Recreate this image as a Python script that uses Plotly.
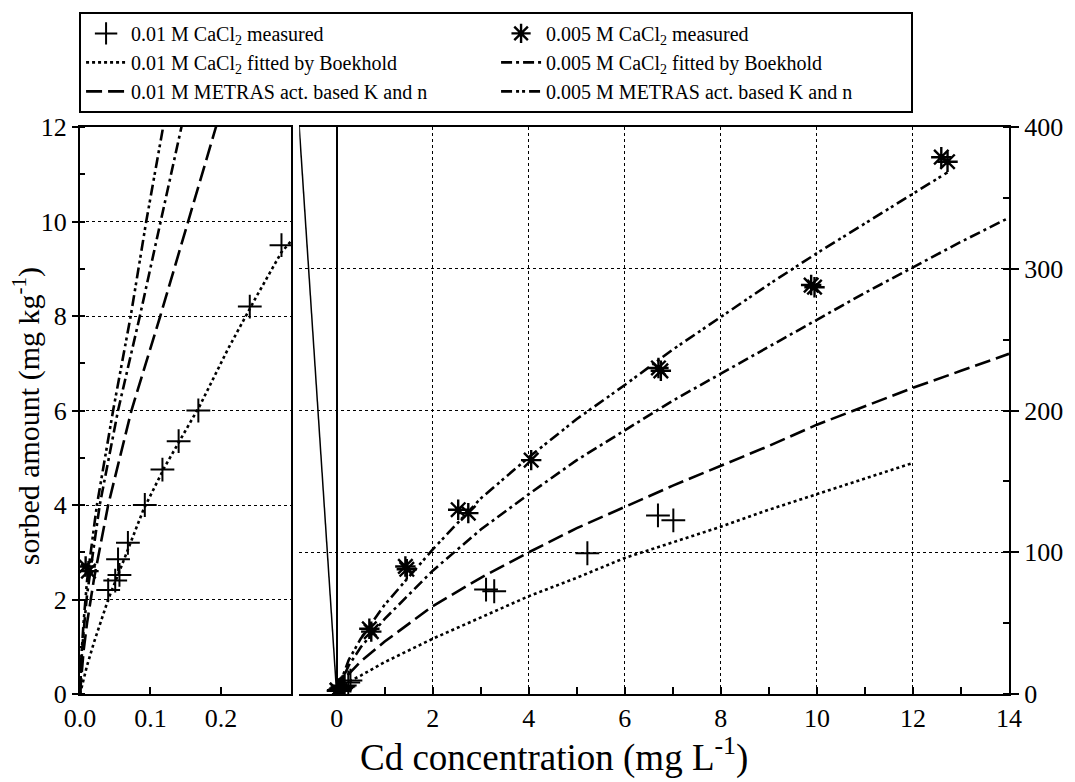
import plotly.graph_objects as go

FONT = "Liberation Serif, Times New Roman, DejaVu Serif, serif"

# ---- measured sorption, 0.01 M CaCl2 (Cd in solution mg/L, sorbed mg/kg) ----
c_01_meas = [0.040, 0.050, 0.056, 0.054, 0.068, 0.092, 0.117, 0.140, 0.168, 0.241, 0.286,
             3.11, 3.28, 5.22, 6.69, 7.01]
q_01_meas = [2.20, 2.40, 2.52, 2.85, 3.20, 4.00, 4.75, 5.35, 6.00, 8.20, 9.50,
             73.7, 72.5, 99.3, 126.0, 122.5]

# ---- measured sorption, 0.005 M CaCl2 ----
c_005_meas = [0.008, 0.012, 0.68, 0.72, 1.43, 1.46, 2.53, 2.74, 4.05, 6.70, 6.75,
              9.88, 9.95, 12.59, 12.72]
q_005_meas = [2.70, 2.60, 46.0, 44.0, 90.0, 88.0, 130.0, 127.6, 165.0, 230.0, 228.0,
              288.5, 287.0, 378.7, 375.5]

# ---- isotherm curves ----
c_01_fit = [0, 0.01, 0.02, 0.04, 0.06, 0.09, 0.12, 0.17, 0.21, 0.25, 0.286, 0.5, 1, 2, 3, 4,
            5, 6, 7, 8, 9, 10, 11, 12]
q_01_fit = [0, 0.6, 1.1, 2.0, 2.75, 3.9, 4.8, 6.1, 7.3, 8.4, 9.35, 13, 22.5, 39, 54, 69,
            82, 96, 107, 118, 130, 141, 152, 163]

c_01_met = [0, 0.005, 0.01, 0.02, 0.040, 0.073, 0.114, 0.153, 0.193, 0.25, 0.5, 1, 2, 3, 4,
            5, 6, 7, 8, 9, 10, 11, 12, 13, 14]
q_01_met = [0, 0.9, 1.5, 2.45, 4.0, 6.0, 8.0, 10.0, 12.0, 14, 23, 37, 62, 82, 100,
            117, 132, 147, 161, 175, 190, 203, 216, 228, 240]

c_005_fit = [0, 0.002, 0.005, 0.01, 0.028, 0.054, 0.085, 0.114, 0.144, 0.25, 0.5, 1, 2, 3, 4,
             5, 6, 7, 8, 9, 10, 11, 12, 13, 14]
q_005_fit = [0, 0.7, 1.3, 2.1, 4.0, 6.0, 8.0, 10.0, 12.0, 20, 33, 53, 87, 116, 141,
             165, 186, 207, 226, 245, 264, 283, 301, 319, 336]

c_005_met = [0, 0.002, 0.005, 0.01, 0.024, 0.047, 0.072, 0.094, 0.118, 0.25, 0.5, 1, 2, 3, 4,
             5, 6, 7, 8, 9, 10, 11, 12, 12.72]
q_005_met = [0, 0.8, 1.5, 2.4, 4.0, 6.0, 8.0, 10.0, 12.0, 24, 39, 63, 102, 138, 167,
             194, 218, 243, 266, 289, 311, 332, 353, 368]

# axis extents
left_x_range = [0, 0.3]
left_y_range = [0, 12]
right_x_range = [-0.78, 14]
right_y_range = [0, 400]

LBL_01_MEAS = "0.01 M CaCl<sub>2</sub> measured"
LBL_005_MEAS = "0.005 M CaCl<sub>2</sub> measured"
LBL_01_FIT = "0.01 M CaCl<sub>2</sub> fitted by Boekhold"
LBL_005_FIT = "0.005 M CaCl<sub>2</sub> fitted by Boekhold"
LBL_01_MET = "0.01 M METRAS act. based K and n"
LBL_005_MET = "0.005 M METRAS act. based K and n"

LW = 2.6
styles = {
    "fit01": dict(color="black", width=LW, dash="3px,3px"),
    "met01": dict(color="black", width=LW, dash="16px,6px"),
    "fit005": dict(color="black", width=LW, dash="11px,4px,3px,4px"),
    "met005": dict(color="black", width=LW, dash="11px,4px,3px,3px,3px,4px"),
}

fig = go.Figure()

series = [
    ("meas01", c_01_meas, q_01_meas, LBL_01_MEAS),
    ("meas005", c_005_meas, q_005_meas, LBL_005_MEAS),
    ("fit01", c_01_fit, q_01_fit, LBL_01_FIT),
    ("fit005", c_005_fit, q_005_fit, LBL_005_FIT),
    ("met01", c_01_met, q_01_met, LBL_01_MET),
    ("met005", c_005_met, q_005_met, LBL_005_MET),
]

for panel, (xa, ya) in enumerate([("x", "y"), ("x2", "y2")]):
    for key, cx, qy, name in series:
        common = dict(x=cx, y=qy, xaxis=xa, yaxis=ya, name=name, legendgroup=key,
                      showlegend=(panel == 0), hoverinfo="skip")
        if key == "meas01":
            fig.add_trace(go.Scatter(mode="markers", marker=dict(
                symbol="cross-thin-open", size=17, color="black",
                line=dict(color="black", width=2)), **common))
        elif key == "meas005":
            fig.add_trace(go.Scatter(mode="markers", marker=dict(
                symbol="asterisk-open", size=17, color="black",
                line=dict(color="black", width=2.4)), **common))
        else:
            fig.add_trace(go.Scatter(mode="lines", line=styles[key], **common))

axis_font = dict(family=FONT, size=26, color="black")
grid_common = dict(gridcolor="black", griddash="dot", gridwidth=1)

fig.update_layout(
    width=1075, height=782,
    margin=dict(l=80, r=63, t=127, b=88),
    paper_bgcolor="white", plot_bgcolor="white",
    font=dict(family=FONT, color="black"),
    xaxis=dict(domain=[0, 0.2275], range=left_x_range, tickvals=[0, 0.1, 0.2],
               ticktext=["0.0", "0.1", "0.2"], ticks="inside", ticklen=7, tickwidth=1.5,
               tickcolor="black", showline=True, linecolor="black", linewidth=2, mirror=True,
               showgrid=False, zeroline=False, tickfont=axis_font, anchor="y"),
    yaxis=dict(range=left_y_range, dtick=2, ticks="outside", ticklen=6, tickwidth=1.5,
               tickcolor="black", showline=True, linecolor="black", linewidth=2, mirror=True,
               showgrid=True, zeroline=False, tickfont=axis_font, anchor="x",
               minor=dict(dtick=1, ticks="inside", ticklen=5, tickcolor="black", showgrid=False),
               **grid_common),
    xaxis2=dict(domain=[0.236, 1], range=right_x_range, tickvals=list(range(0, 15, 2)),
                ticks="inside", ticklen=7, tickwidth=1.5, tickcolor="black",
                showline=True, linecolor="black", linewidth=2, mirror=True,
                showgrid=True, zeroline=True, zerolinecolor="black", zerolinewidth=1.5,
                tickfont=axis_font, anchor="y2",
                minor=dict(dtick=1, tick0=0, ticks="inside", ticklen=7, tickcolor="black",
                           showgrid=False),
                **grid_common),
    yaxis2=dict(range=right_y_range, dtick=100, side="right", ticks="outside", ticklen=8,
                tickwidth=1.5, tickcolor="black", showline=True, linecolor="black",
                linewidth=2, mirror=False, showgrid=True, zeroline=False,
                tickfont=axis_font, anchor="x2",
                minor=dict(dtick=50, ticks="inside", ticklen=6, tickcolor="black",
                           showgrid=False),
                **grid_common),
    legend=dict(orientation="h", x=-0.001, xanchor="left", y=1.203, yanchor="top",
                entrywidth=360, entrywidthmode="pixels", bordercolor="black",
                borderwidth=2, bgcolor="white", traceorder="normal",
                font=dict(family=FONT, size=20, color="black"), tracegroupgap=0,
                itemwidth=40),
    showlegend=True,
)

# slanted left edge of the enlarged panel, from its top-left corner down to the origin
fig.add_shape(type="line", xref="x2", yref="y2 domain",
              x0=right_x_range[0], y0=1, x1=0, y1=0,
              line=dict(color="black", width=1.5))

fig.add_annotation(text="Cd concentration (mg L<sup>-1</sup>)", xref="paper", yref="paper",
                   x=0.51, y=-0.108, xanchor="center", yanchor="middle", showarrow=False,
                   font=dict(family=FONT, size=37, color="black"))
fig.add_annotation(text="sorbed amount (mg kg<sup>-1</sup>)", xref="paper", yref="paper",
                   x=-0.058, y=0.49, xanchor="center", yanchor="middle", textangle=-90,
                   showarrow=False, font=dict(family=FONT, size=30, color="black"))

fig.write_html("out.html")
